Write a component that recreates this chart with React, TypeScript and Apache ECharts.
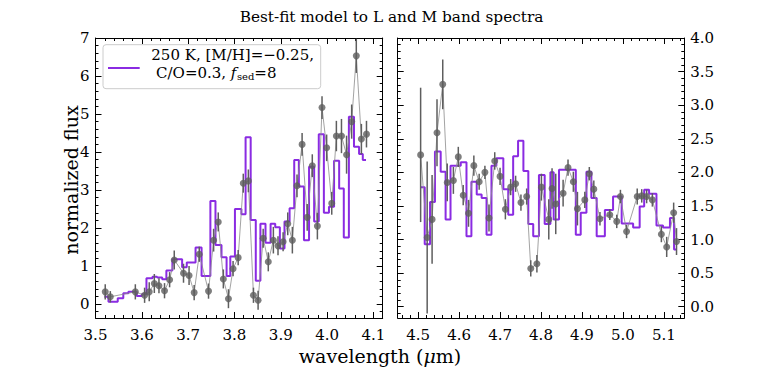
import { useEffect, useRef } from 'react';
import * as echarts from 'echarts';

const FONT = '"DejaVu Serif", serif';

const chartTitle = 'Best-fit model to L and M band spectra';
const yAxisTitle = 'normalized flux';
const legendLine1 = '250 K, [M/H]=\u22120.25,';
const legendLine2a = ' C/O=0.3, ';
const legendItalic = 'f';
const legendSub = 'sed';
const legendLine2b = '=8';

// ---- L band (left panel) ----
const lWave = [3.521, 3.532, 3.586, 3.606, 3.616, 3.627, 3.637, 3.649, 3.660, 3.670, 3.690, 3.702, 3.713, 3.724, 3.744, 3.755, 3.765, 3.776, 3.787, 3.797, 3.808, 3.819, 3.830, 3.841, 3.851, 3.862, 3.873, 3.884, 3.894, 3.905, 3.915, 3.925, 3.935, 3.946, 3.957, 3.968, 3.979, 3.989, 3.999, 4.010, 4.020, 4.031, 4.042, 4.053, 4.063, 4.074, 4.085];
const lFlux = [0.32, 0.19, 0.32, 0.23, 0.32, 0.54, 0.48, 0.35, 0.64, 1.16, 0.81, 0.75, 0.30, 1.31, 0.34, 1.68, 2.16, 0.66, 0.14, 0.93, 1.22, 3.18, 3.24, 0.23, 0.10, 1.73, 1.11, 1.68, 1.53, 1.64, 2.11, 1.68, 3.11, 4.20, 2.28, 3.64, 2.05, 5.17, 4.11, 2.65, 4.42, 4.42, 3.93, 4.80, 6.53, 4.34, 4.47];
const lErr = [0.20, 0.15, 0.20, 0.20, 0.25, 0.25, 0.20, 0.20, 0.20, 0.25, 0.25, 0.25, 0.20, 0.20, 0.20, 0.30, 0.25, 0.25, 0.25, 0.20, 0.20, 0.25, 0.30, 0.20, 0.25, 0.25, 0.25, 0.35, 0.25, 0.25, 0.30, 0.35, 0.30, 0.30, 0.35, 0.30, 0.35, 0.30, 0.35, 0.30, 0.40, 0.45, 0.50, 0.45, 0.45, 0.40, 0.35];
const lModelEdges = [3.519, 3.528, 3.548, 3.560, 3.571, 3.589, 3.600, 3.610, 3.623, 3.633, 3.644, 3.653, 3.666, 3.687, 3.697, 3.716, 3.729, 3.748, 3.759, 3.772, 3.783, 3.791, 3.801, 3.815, 3.824, 3.835, 3.846, 3.856, 3.867, 3.878, 3.888, 3.898, 3.908, 3.919, 3.929, 3.939, 3.950, 3.961, 3.972, 3.982, 3.993, 4.004, 4.015, 4.026, 4.036, 4.047, 4.058, 4.069, 4.077, 4.084];
const lModelFlux = [0.19, 0.06, 0.15, 0.28, 0.32, 0.21, 0.26, 0.68, 0.72, 0.70, 0.65, 0.88, 1.18, 0.97, 1.09, 1.49, 0.74, 2.71, 1.55, 1.23, 0.74, 1.25, 2.50, 2.36, 4.39, 2.21, 0.61, 2.11, 1.61, 2.11, 2.02, 1.46, 2.17, 2.52, 3.79, 3.09, 1.68, 3.61, 2.17, 4.47, 2.40, 2.56, 3.77, 3.04, 1.75, 4.93, 4.14, 3.95, 3.79];
const lXTicks = [3.5, 3.6, 3.7, 3.8, 3.9, 4.0, 4.1];
const lYTicks = [0, 1, 2, 3, 4, 5, 6, 7];

// ---- M band (right panel) ----
const mWave = [4.506, 4.522, 4.534, 4.546, 4.560, 4.571, 4.586, 4.598, 4.610, 4.623, 4.636, 4.649, 4.663, 4.673, 4.687, 4.700, 4.713, 4.726, 4.738, 4.751, 4.765, 4.775, 4.790, 4.801, 4.819, 4.827, 4.836, 4.854, 4.866, 4.879, 4.889, 4.907, 4.918, 4.929, 4.944, 4.968, 4.985, 4.994, 5.009, 5.035, 5.046, 5.058, 5.072, 5.094, 5.107, 5.124, 5.131];
const mFlux = [2.26, 1.03, 1.30, 2.59, 3.31, 1.85, 1.88, 2.23, 1.66, 1.39, 2.10, 1.86, 2.00, 1.32, 2.17, 1.94, 1.45, 1.78, 1.83, 1.55, 1.64, 0.57, 0.64, 1.78, 1.30, 1.76, 1.53, 1.69, 2.07, 1.86, 1.46, 1.59, 1.98, 1.75, 1.31, 1.37, 1.27, 1.64, 1.12, 1.64, 1.65, 1.64, 1.59, 1.08, 0.89, 1.40, 0.97];
const mErr = [1.00, 1.13, 0.66, 0.50, 0.37, 0.28, 0.20, 0.15, 0.15, 0.20, 0.15, 0.12, 0.10, 0.20, 0.13, 0.13, 0.15, 0.12, 0.12, 0.12, 0.12, 0.12, 0.13, 0.20, 0.30, 0.30, 0.45, 0.20, 0.12, 0.15, 0.25, 0.12, 0.10, 0.13, 0.10, 0.08, 0.10, 0.10, 0.10, 0.12, 0.10, 0.10, 0.10, 0.12, 0.15, 0.15, 0.20];
const mModelEdges = [4.506, 4.516, 4.529, 4.541, 4.555, 4.567, 4.579, 4.604, 4.618, 4.630, 4.643, 4.655, 4.667, 4.679, 4.691, 4.708, 4.720, 4.732, 4.744, 4.757, 4.769, 4.781, 4.795, 4.809, 4.823, 4.831, 4.844, 4.885, 4.897, 4.911, 4.923, 4.936, 4.956, 4.976, 4.997, 5.025, 5.041, 5.052, 5.064, 5.082, 5.098, 5.115, 5.125, 5.131];
const mModelFlux = [1.78, 0.93, 1.56, 2.31, 2.01, 1.30, 2.10, 2.15, 1.05, 1.86, 1.67, 1.62, 1.07, 2.10, 2.21, 1.75, 1.37, 2.24, 2.47, 2.02, 1.23, 1.05, 1.96, 1.23, 2.00, 1.30, 2.04, 1.07, 1.40, 2.01, 1.62, 1.05, 1.44, 1.64, 1.24, 1.18, 1.49, 1.74, 1.68, 1.21, 1.18, 1.32, 0.85];
const mXTicks = [4.5, 4.6, 4.7, 4.8, 4.9, 5.0, 5.1];
const mYTicks = [0, 0.5, 1.0, 1.5, 2.0, 2.5, 3.0, 3.5, 4.0];

const MODEL_COLOR = '#8a2be2';
const POINT_COLOR = '#5e5e5e';

function tickRange(from: number, to: number, step: number): number[] {
  const out: number[] = [];
  const n = Math.round((to - from) / step);
  for (let i = 0; i <= n; i++) out.push(+(from + i * step).toFixed(4));
  return out;
}

function buildAxes(grid: number, dir: 'x' | 'y', min: number, max: number, major: number[], minor: number[], labelSide: string, fmt: (v: number) => string) {
  const sides = dir === 'x' ? ['bottom', 'top'] : ['left', 'right'];
  const out: any[] = [];
  for (const side of sides) {
    for (const isMajor of [true, false]) {
      out.push({
        type: 'value',
        gridIndex: grid,
        position: side,
        min,
        max,
        axisLine: { show: isMajor, onZero: false, lineStyle: { color: '#000', width: 1 } },
        axisTick: { show: true, inside: true, length: isMajor ? 6 : 3, customValues: isMajor ? major : minor, lineStyle: { color: '#000', width: 1 } },
        axisLabel: { show: isMajor && side === labelSide, customValues: major, formatter: fmt, fontFamily: FONT, fontSize: 15, color: '#000', margin: dir === 'x' ? 9 : 6 },
        splitLine: { show: false },
        minorTick: { show: false },
      });
    }
  }
  return out;
}

function panelSeries(xi: number, yi: number, wave: number[], flux: number[], err: number[], edges: number[], model: number[]) {
  const modelData = edges.map((e, i) => [e, model[Math.min(i, model.length - 1)]]);
  const pts = wave.map((w, i) => [w, flux[i]]);
  const bars = wave.map((w, i) => [w, flux[i] - err[i], flux[i] + err[i]]);
  return [
    {
      type: 'line', xAxisIndex: xi, yAxisIndex: yi, data: modelData, step: 'end', symbol: 'none',
      lineStyle: { color: MODEL_COLOR, width: 2 }, z: 2, silent: true,
    },
    {
      type: 'line', xAxisIndex: xi, yAxisIndex: yi, data: pts, symbol: 'none',
      lineStyle: { color: '#8c8c8c', width: 0.8 }, z: 3, silent: true,
    },
    {
      type: 'custom', xAxisIndex: xi, yAxisIndex: yi, data: bars, z: 4, silent: true, clip: true,
      renderItem: (_p: any, api: any) => {
        const lo = api.coord([api.value(0), api.value(1)]);
        const hi = api.coord([api.value(0), api.value(2)]);
        return { type: 'line', shape: { x1: lo[0], y1: lo[1], x2: hi[0], y2: hi[1] }, style: { stroke: POINT_COLOR, lineWidth: 1.5 } };
      },
    },
    {
      type: 'scatter', xAxisIndex: xi, yAxisIndex: yi, data: pts, symbol: 'circle', symbolSize: 7,
      itemStyle: { color: POINT_COLOR }, z: 5, silent: true,
    },
  ];
}

function measure(text: string, font: string): number {
  const ctx = document.createElement('canvas').getContext('2d');
  if (!ctx) return text.length * 8;
  ctx.font = font;
  return ctx.measureText(text).width;
}

export default function App() {
  const ref = useRef<HTMLDivElement>(null);
  useEffect(() => {
    if (!ref.current) return;
    const chart = echarts.init(ref.current, undefined, { renderer: 'svg' });

    const lXMinor = tickRange(3.5, 4.12, 0.02);
    const lYMinor = tickRange(-0.2, 7, 0.2);
    const mXMinor = tickRange(4.46, 5.14, 0.02);
    const mYMinor = tickRange(-0.1, 4.0, 0.1);

    const f1 = (v: number) => v.toFixed(1);
    const fi = (v: number) => String(Math.round(v));

    const xAxes = [
      ...buildAxes(0, 'x', 3.5, 4.12, lXTicks, lXMinor, 'bottom', f1),
      ...buildAxes(1, 'x', 4.45, 5.15, mXTicks, mXMinor, 'bottom', f1),
    ];
    const yAxes = [
      ...buildAxes(0, 'y', -0.368, 7, lYTicks, lYMinor, 'left', fi),
      ...buildAxes(1, 'y', -0.168, 4, mYTicks, mYMinor, 'right', f1),
    ];

    const LEG = 15;
    const SUB = 10;
    const legFont = `${LEG}px ${FONT}`;
    const legX = 151.3;
    const l2y = 73;
    const w2a = measure(legendLine2a, legFont);
    const wIt = measure(legendItalic, `italic ${LEG}px ${FONT}`);
    const wSub = measure(legendSub, `${SUB}px ${FONT}`);

    const txt = (x: number, y: number, text: string, size: number, extra: any = {}) => ({
      type: 'text', x, y, silent: true,
      style: { text, fontFamily: FONT, fontSize: size, fill: '#000', align: 'left', verticalAlign: 'middle', textAlign: 'left', textVerticalAlign: 'middle', ...extra },
    });

    chart.setOption({
      animation: false,
      backgroundColor: '#fff',
      grid: [
        { left: 95.5, top: 38, width: 287.2, height: 280, containLabel: false },
        { left: 397.7, top: 38, width: 286.6, height: 280, containLabel: false },
      ],
      xAxis: xAxes,
      yAxis: yAxes,
      series: [
        ...panelSeries(0, 0, lWave, lFlux, lErr, lModelEdges, lModelFlux),
        ...panelSeries(4, 4, mWave, mFlux, mErr, mModelEdges, mModelFlux),
      ],
      graphic: [
        txt(391.5, 17, chartTitle, 15.3, { align: 'center', textAlign: 'center' }),
        {
          type: 'text', x: 380, y: 356, silent: true,
          style: {
            text: '{n|wavelength (}{i|\u03bc}{n|m)}', align: 'center', verticalAlign: 'middle', textAlign: 'center', textVerticalAlign: 'middle',
            rich: {
              n: { fontFamily: FONT, fontSize: 19, fill: '#000', color: '#000' },
              i: { fontFamily: FONT, fontSize: 19, fontStyle: 'italic', fill: '#000', color: '#000' },
            },
          },
        },
        {
          ...txt(0, 0, yAxisTitle, 19, { align: 'center', textAlign: 'center' }),
          x: 71, y: 180, rotation: Math.PI / 2,
        },
        {
          type: 'rect', silent: true, z: 100,
          shape: { x: 103, y: 44.7, width: 217.7, height: 44, r: 3 },
          style: { fill: 'rgba(255,255,255,0.8)', stroke: '#cccccc', lineWidth: 1 },
        },
        { type: 'line', silent: true, z: 101, shape: { x1: 108, y1: 68, x2: 139.7, y2: 68 }, style: { stroke: MODEL_COLOR, lineWidth: 2 } },
        { ...txt(legX, 55, legendLine1, LEG), z: 101 },
        { ...txt(legX, l2y, legendLine2a, LEG), z: 101 },
        { ...txt(legX + w2a, l2y, legendItalic, LEG, { fontStyle: 'italic' }), z: 101 },
        { ...txt(legX + w2a + wIt + 0.5, l2y + 3, legendSub, SUB), z: 101 },
        { ...txt(legX + w2a + wIt + 0.5 + wSub, l2y, legendLine2b, LEG), z: 101 },
      ],
    });
    return () => chart.dispose();
  }, []);
  return <div ref={ref} style={{ position: 'absolute', left: 0, top: 0, width: 761, height: 381 }} />;
}
